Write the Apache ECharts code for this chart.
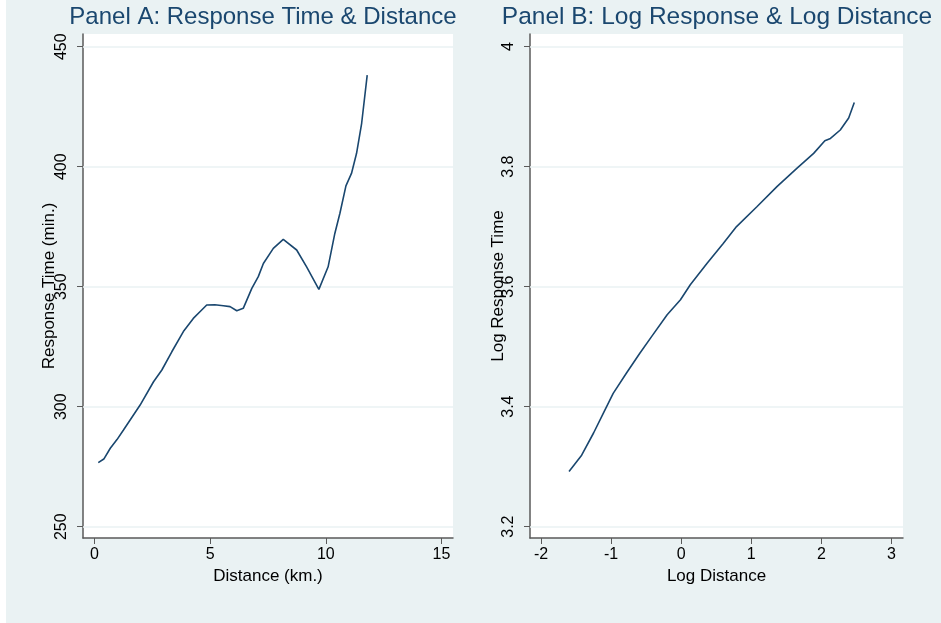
<!DOCTYPE html>
<html>
<head>
<meta charset="utf-8">
<script src="https://cdn.jsdelivr.net/npm/echarts@6/dist/echarts.min.js"></script>
<style>
html,body{margin:0;padding:0;background:#EAF2F3;}
#chart{width:941px;height:623px;}
</style>
</head>
<body>
<div id="chart"></div>
<script>
// Panel A: Response Time vs Distance
const distA = [0.16, 0.4, 0.68, 0.97, 1.25, 1.61, 1.97, 2.55, 2.91, 3.34, 3.84, 4.27, 4.6, 4.85, 5.2, 5.57, 5.86, 6.15, 6.43, 6.8, 7.08, 7.3, 7.73, 8.16, 8.74, 9.17, 9.7, 10.1, 10.39, 10.61, 10.87, 11.11, 11.33, 11.55, 11.79];
const respA = [276.7, 278.2, 282.7, 286.3, 290.3, 295.5, 300.7, 310.4, 315.3, 322.9, 331.3, 336.8, 340, 342.4, 342.5, 342.1, 341.7, 340, 341, 349.3, 354.2, 359.7, 366, 369.7, 365.3, 358.3, 348.9, 358.3, 372.2, 380.6, 392, 397.2, 405.6, 418.1, 438.2];
// Panel B: Log Response vs Log Distance
const logDistB = [-1.6, -1.42, -1.25, -1.11, -0.97, -0.78, -0.59, -0.42, -0.2, -0.01, 0.13, 0.37, 0.6, 0.79, 1.08, 1.37, 1.65, 1.89, 2.05, 2.13, 2.27, 2.39, 2.47];
const logRespB = [3.292, 3.319, 3.356, 3.389, 3.422, 3.456, 3.489, 3.517, 3.553, 3.578, 3.603, 3.639, 3.672, 3.700, 3.733, 3.767, 3.797, 3.822, 3.843, 3.847, 3.861, 3.881, 3.907];
// Tick labels
const xTicksA = [0, 5, 10, 15];
const yTicksA = [250, 300, 350, 400, 450];
const xTicksB = [-2, -1, 0, 1, 2, 3];
const yTicksB = [3.2, 3.4, 3.6, 3.8, 4];

const FONT = '"Liberation Sans", Arial, Helvetica, sans-serif';
const NAVY = '#1a476f';
const AXIS = '#5a5a5a';
const GRIDC = '#EAF2F3';

function xAxisCfg(idx, ticks, min, max, name) {
  return {
    type: 'value', gridIndex: idx, min: min, max: max,
    name: name, nameLocation: 'middle', nameGap: 30, nameMoveOverlap: false,
    nameTextStyle: {fontFamily: FONT, fontSize: 17, color: '#000'},
    axisLine: {show: true, onZero: false, lineStyle: {color: AXIS, width: 1.5}},
    axisTick: {show: true, length: 6, customValues: ticks, lineStyle: {color: AXIS, width: 1}},
    axisLabel: {customValues: ticks, fontFamily: FONT, fontSize: 16, color: '#000', margin: 9},
    splitLine: {show: false}
  };
}
function yAxisCfg(idx, ticks, min, max, name, gap) {
  return {
    type: 'value', gridIndex: idx, min: min, max: max,
    name: name, nameLocation: 'middle', nameGap: gap, nameRotate: 90, nameMoveOverlap: false,
    nameTextStyle: {fontFamily: FONT, fontSize: 17, color: '#000'},
    axisLine: {show: true, onZero: false, lineStyle: {color: AXIS, width: 1.5}},
    axisTick: {show: true, length: 6, customValues: ticks, lineStyle: {color: AXIS, width: 1}},
    axisLabel: {customValues: ticks, rotate: 90, fontFamily: FONT, fontSize: 16, color: '#000', margin: 13},
    splitLine: {show: false}
  };
}
function gridSeries(idx, ticks) {
  return {
    type: 'line', xAxisIndex: idx, yAxisIndex: idx, data: [], z: 1, silent: true,
    markLine: {
      silent: true, symbol: ['none', 'none'], label: {show: false},
      lineStyle: {color: GRIDC, width: 1.5, type: 'solid'},
      emphasis: {disabled: true}, animation: false,
      data: ticks.map(v => ({yAxis: v}))
    }
  };
}

const chart = echarts.init(document.getElementById('chart'), null, {renderer: 'canvas'});
chart.setOption({
  backgroundColor: '#EAF2F3',
  animation: false,
  graphic: [{type: 'rect', shape: {x: 0, y: 0, width: 6, height: 623}, style: {fill: '#ffffff'}, z: -1}],
  title: [
    {text: 'Panel A: Response Time & Distance', left: 263, top: 5, textAlign: 'center', padding: 0,
     textStyle: {fontFamily: FONT, fontSize: 24, fontWeight: 'normal', color: NAVY}},
    {text: 'Panel B: Log Response & Log Distance', left: 717, top: 5, textAlign: 'center', padding: 0,
     textStyle: {fontFamily: FONT, fontSize: 24.5, fontWeight: 'normal', color: NAVY}}
  ],
  grid: [
    {left: 83, top: 34, width: 370, height: 504, show: true, backgroundColor: '#ffffff', borderWidth: 0},
    {left: 530, top: 34, width: 373, height: 504, show: true, backgroundColor: '#ffffff', borderWidth: 0}
  ],
  xAxis: [
    xAxisCfg(0, xTicksA, -0.5, 15.5, 'Distance (km.)'),
    xAxisCfg(1, xTicksB, -2.157, 3.165, 'Log Distance')
  ],
  yAxis: [
    yAxisCfg(0, yTicksA, 245.3, 455.3, 'Response Time (min.)', 25),
    yAxisCfg(1, yTicksB, 3.181, 4.021, 'Log Response Time', 23)
  ],
  series: [
    gridSeries(0, yTicksA),
    gridSeries(1, yTicksB),
    {type: 'line', xAxisIndex: 0, yAxisIndex: 0, showSymbol: false, symbol: 'none', smooth: false,
     lineStyle: {color: NAVY, width: 1.6}, data: distA.map((x, i) => [x, respA[i]]), z: 5},
    {type: 'line', xAxisIndex: 1, yAxisIndex: 1, showSymbol: false, symbol: 'none', smooth: false,
     lineStyle: {color: NAVY, width: 1.6}, data: logDistB.map((x, i) => [x, logRespB[i]]), z: 5}
  ]
});
</script>
</body>
</html>
